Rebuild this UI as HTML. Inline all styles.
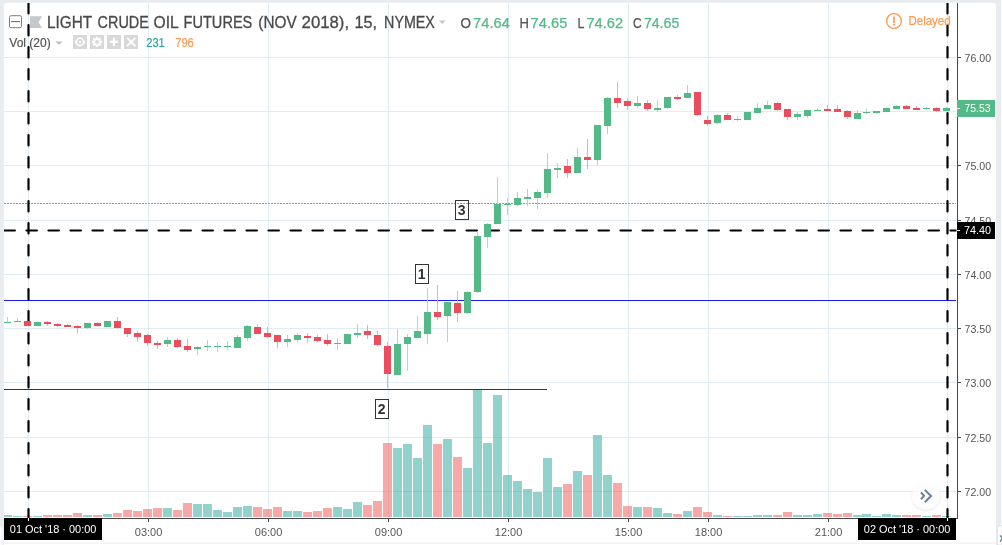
<!DOCTYPE html>
<html><head><meta charset="utf-8"><title>chart</title>
<style>html,body{margin:0;padding:0;background:#e8ecef;width:1002px;height:545px;overflow:hidden;font-family:"Liberation Sans",sans-serif}</style></head>
<body>
<svg width="1002" height="545" viewBox="0 0 1002 545" style="position:absolute;left:0;top:0;will-change:transform;font-family:'Liberation Sans',sans-serif">
<defs><clipPath id="pane"><rect x="4" y="3" width="952.5" height="515"/></clipPath><filter id="sh" x="-30%" y="-30%" width="160%" height="160%"><feDropShadow dx="0" dy="1" stdDeviation="1.2" flood-color="#000" flood-opacity="0.14"/></filter></defs>
<rect width="1002" height="545" fill="#e8ecef"/>
<rect x="1000" y="0" width="1" height="545" fill="#d9dee2"/><rect x="1000.6" y="0" width="2" height="545" fill="#fff"/>
<path d="M3.8 545V5.8a3 3 0 0 1 3-3H993a3 3 0 0 1 3 3V545Z" fill="#fff"/>
<rect x="3.8" y="542.6" width="992.2" height="0.9" fill="#e6ebef"/>
<path d="M1002 525.6H1000.4a3 3 0 0 0-3 3V545H1002Z" fill="#fff" stroke="#d5dbe0" stroke-width="0.7"/>
<path d="M1000 535.4l2.6 3l-2.6 3.2" stroke="#5f7d90" stroke-width="1.3" fill="none"/>
<path d="M0 526.4a2.4 2.4 0 0 1 2.4 2.4V545H0Z" fill="#fafbfc"/>
<g shape-rendering="crispEdges" fill="#e1ecf2">
<rect x="4" y="57" width="952" height="1"/>
<rect x="4" y="111" width="952" height="1"/>
<rect x="4" y="165" width="952" height="1"/>
<rect x="4" y="220" width="952" height="1"/>
<rect x="4" y="274" width="952" height="1"/>
<rect x="4" y="328" width="952" height="1"/>
<rect x="4" y="382" width="952" height="1"/>
<rect x="4" y="437" width="952" height="1"/>
<rect x="4" y="491" width="952" height="1"/>
<rect x="28" y="3" width="1" height="515"/>
<rect x="148" y="3" width="1" height="515"/>
<rect x="268" y="3" width="1" height="515"/>
<rect x="388" y="3" width="1" height="515"/>
<rect x="508" y="3" width="1" height="515"/>
<rect x="628" y="3" width="1" height="515"/>
<rect x="708" y="3" width="1" height="515"/>
<rect x="828" y="3" width="1" height="515"/>
<rect x="947" y="3" width="1" height="515"/>
</g>
<g shape-rendering="crispEdges" clip-path="url(#pane)">
<rect x="3" y="515" width="9" height="2" fill="rgba(38,166,154,0.5)"/>
<rect x="13" y="516" width="9" height="1" fill="rgba(38,166,154,0.5)"/>
<rect x="23" y="516" width="9" height="1" fill="rgba(239,83,80,0.5)"/>
<rect x="33" y="516" width="9" height="1" fill="rgba(38,166,154,0.5)"/>
<rect x="43" y="515" width="9" height="2" fill="rgba(239,83,80,0.5)"/>
<rect x="53" y="515" width="9" height="2" fill="rgba(239,83,80,0.5)"/>
<rect x="63" y="515" width="9" height="2" fill="rgba(239,83,80,0.5)"/>
<rect x="73" y="513" width="9" height="4" fill="rgba(239,83,80,0.5)"/>
<rect x="83" y="515" width="9" height="2" fill="rgba(38,166,154,0.5)"/>
<rect x="93" y="515" width="9" height="2" fill="rgba(239,83,80,0.5)"/>
<rect x="103" y="514" width="9" height="3" fill="rgba(38,166,154,0.5)"/>
<rect x="113" y="513" width="9" height="4" fill="rgba(239,83,80,0.5)"/>
<rect x="123" y="510" width="9" height="7" fill="rgba(239,83,80,0.5)"/>
<rect x="133" y="511" width="9" height="6" fill="rgba(239,83,80,0.5)"/>
<rect x="143" y="509" width="9" height="8" fill="rgba(239,83,80,0.5)"/>
<rect x="153" y="508" width="9" height="9" fill="rgba(239,83,80,0.5)"/>
<rect x="163" y="508" width="9" height="9" fill="rgba(38,166,154,0.5)"/>
<rect x="173" y="510" width="9" height="7" fill="rgba(239,83,80,0.5)"/>
<rect x="183" y="503" width="9" height="14" fill="rgba(239,83,80,0.5)"/>
<rect x="193" y="504" width="9" height="13" fill="rgba(38,166,154,0.5)"/>
<rect x="203" y="504" width="9" height="13" fill="rgba(38,166,154,0.5)"/>
<rect x="213" y="510" width="9" height="7" fill="rgba(38,166,154,0.5)"/>
<rect x="223" y="512" width="9" height="5" fill="rgba(38,166,154,0.5)"/>
<rect x="233" y="507" width="9" height="10" fill="rgba(38,166,154,0.5)"/>
<rect x="243" y="506" width="9" height="11" fill="rgba(38,166,154,0.5)"/>
<rect x="253" y="507" width="9" height="10" fill="rgba(239,83,80,0.5)"/>
<rect x="263" y="509" width="9" height="8" fill="rgba(239,83,80,0.5)"/>
<rect x="273" y="507" width="9" height="10" fill="rgba(239,83,80,0.5)"/>
<rect x="283" y="511" width="9" height="6" fill="rgba(38,166,154,0.5)"/>
<rect x="293" y="511" width="9" height="6" fill="rgba(38,166,154,0.5)"/>
<rect x="303" y="512" width="9" height="5" fill="rgba(239,83,80,0.5)"/>
<rect x="313" y="511" width="9" height="6" fill="rgba(239,83,80,0.5)"/>
<rect x="323" y="508" width="9" height="9" fill="rgba(239,83,80,0.5)"/>
<rect x="333" y="507" width="9" height="10" fill="rgba(38,166,154,0.5)"/>
<rect x="343" y="509" width="9" height="8" fill="rgba(38,166,154,0.5)"/>
<rect x="353" y="502" width="9" height="15" fill="rgba(38,166,154,0.5)"/>
<rect x="363" y="505" width="9" height="12" fill="rgba(239,83,80,0.5)"/>
<rect x="373" y="501" width="9" height="16" fill="rgba(239,83,80,0.5)"/>
<rect x="383" y="443" width="9" height="74" fill="rgba(239,83,80,0.5)"/>
<rect x="393" y="448" width="9" height="69" fill="rgba(38,166,154,0.5)"/>
<rect x="403" y="444" width="9" height="73" fill="rgba(38,166,154,0.5)"/>
<rect x="413" y="458" width="9" height="59" fill="rgba(38,166,154,0.5)"/>
<rect x="423" y="425" width="9" height="92" fill="rgba(38,166,154,0.5)"/>
<rect x="433" y="444" width="9" height="73" fill="rgba(239,83,80,0.5)"/>
<rect x="443" y="439" width="9" height="78" fill="rgba(38,166,154,0.5)"/>
<rect x="453" y="457" width="9" height="60" fill="rgba(239,83,80,0.5)"/>
<rect x="463" y="468" width="9" height="49" fill="rgba(38,166,154,0.5)"/>
<rect x="473" y="390" width="9" height="127" fill="rgba(38,166,154,0.5)"/>
<rect x="483" y="443" width="9" height="74" fill="rgba(38,166,154,0.5)"/>
<rect x="493" y="395" width="9" height="122" fill="rgba(38,166,154,0.5)"/>
<rect x="503" y="475" width="9" height="42" fill="rgba(38,166,154,0.5)"/>
<rect x="513" y="481" width="9" height="36" fill="rgba(38,166,154,0.5)"/>
<rect x="523" y="489" width="9" height="28" fill="rgba(38,166,154,0.5)"/>
<rect x="533" y="492" width="9" height="25" fill="rgba(38,166,154,0.5)"/>
<rect x="543" y="458" width="9" height="59" fill="rgba(38,166,154,0.5)"/>
<rect x="553" y="487" width="9" height="30" fill="rgba(38,166,154,0.5)"/>
<rect x="563" y="484" width="9" height="33" fill="rgba(239,83,80,0.5)"/>
<rect x="573" y="471" width="9" height="46" fill="rgba(38,166,154,0.5)"/>
<rect x="583" y="475" width="9" height="42" fill="rgba(239,83,80,0.5)"/>
<rect x="593" y="435" width="9" height="82" fill="rgba(38,166,154,0.5)"/>
<rect x="603" y="475" width="9" height="42" fill="rgba(38,166,154,0.5)"/>
<rect x="613" y="483" width="9" height="34" fill="rgba(239,83,80,0.5)"/>
<rect x="623" y="506" width="9" height="11" fill="rgba(239,83,80,0.5)"/>
<rect x="633" y="507" width="9" height="10" fill="rgba(38,166,154,0.5)"/>
<rect x="643" y="507" width="9" height="10" fill="rgba(239,83,80,0.5)"/>
<rect x="653" y="508" width="9" height="9" fill="rgba(38,166,154,0.5)"/>
<rect x="663" y="513" width="9" height="4" fill="rgba(38,166,154,0.5)"/>
<rect x="673" y="514" width="9" height="3" fill="rgba(239,83,80,0.5)"/>
<rect x="683" y="511" width="9" height="6" fill="rgba(38,166,154,0.5)"/>
<rect x="693" y="507" width="9" height="10" fill="rgba(239,83,80,0.5)"/>
<rect x="703" y="512" width="9" height="5" fill="rgba(239,83,80,0.5)"/>
<rect x="713" y="515" width="9" height="2" fill="rgba(38,166,154,0.5)"/>
<rect x="723" y="516" width="9" height="1" fill="rgba(239,83,80,0.5)"/>
<rect x="733" y="516" width="9" height="1" fill="rgba(38,166,154,0.5)"/>
<rect x="743" y="516" width="9" height="1" fill="rgba(38,166,154,0.5)"/>
<rect x="753" y="515" width="9" height="2" fill="rgba(38,166,154,0.5)"/>
<rect x="763" y="515" width="9" height="2" fill="rgba(38,166,154,0.5)"/>
<rect x="773" y="515" width="9" height="2" fill="rgba(239,83,80,0.5)"/>
<rect x="783" y="512" width="9" height="5" fill="rgba(239,83,80,0.5)"/>
<rect x="793" y="515" width="9" height="2" fill="rgba(38,166,154,0.5)"/>
<rect x="803" y="515" width="9" height="2" fill="rgba(38,166,154,0.5)"/>
<rect x="813" y="514" width="9" height="3" fill="rgba(38,166,154,0.5)"/>
<rect x="823" y="513" width="9" height="4" fill="rgba(239,83,80,0.5)"/>
<rect x="833" y="514" width="9" height="3" fill="rgba(239,83,80,0.5)"/>
<rect x="843" y="513" width="9" height="4" fill="rgba(239,83,80,0.5)"/>
<rect x="853" y="515" width="9" height="2" fill="rgba(38,166,154,0.5)"/>
<rect x="862" y="514" width="9" height="3" fill="rgba(38,166,154,0.5)"/>
<rect x="872" y="516" width="9" height="1" fill="rgba(38,166,154,0.5)"/>
<rect x="882" y="514" width="9" height="3" fill="rgba(38,166,154,0.5)"/>
<rect x="892" y="515" width="9" height="2" fill="rgba(38,166,154,0.5)"/>
<rect x="902" y="515" width="9" height="2" fill="rgba(239,83,80,0.5)"/>
<rect x="912" y="515" width="9" height="2" fill="rgba(239,83,80,0.5)"/>
<rect x="922" y="516" width="9" height="1" fill="rgba(38,166,154,0.5)"/>
<rect x="932" y="515" width="9" height="2" fill="rgba(239,83,80,0.5)"/>
<rect x="942" y="516" width="9" height="1" fill="rgba(38,166,154,0.5)"/>
</g>
<g shape-rendering="crispEdges" fill="#1c1cf5"><rect x="4" y="300" width="952" height="1"/><rect x="4" y="389" width="543.4" height="1"/></g>
<line x1="4" y1="203.5" x2="956" y2="203.5" stroke="#53b987" stroke-width="1" stroke-dasharray="2 1" shape-rendering="crispEdges"/>
<g clip-path="url(#pane)" stroke="#000" stroke-width="2.2" stroke-linecap="round" fill="none" stroke-dasharray="10.4 11.6">
<line x1="4.5" y1="230.5" x2="960" y2="230.5"/>
<line x1="28.5" y1="3.1" x2="28.5" y2="520"/>
<line x1="947.5" y1="3.1" x2="947.5" y2="520"/>
</g>
<g shape-rendering="crispEdges" clip-path="url(#pane)">
<rect x="7" y="317" width="1" height="6" fill="#a9dcc3"/>
<rect x="4" y="322" width="7" height="1" fill="#53b987"/>
<rect x="17" y="318" width="1" height="4" fill="#a9dcc3"/>
<rect x="14" y="321" width="7" height="1" fill="#53b987"/>
<rect x="27" y="321" width="1" height="5" fill="#f5a6ae"/>
<rect x="24" y="321" width="7" height="5" fill="#eb4d5c"/>
<rect x="37" y="321" width="1" height="5" fill="#a9dcc3"/>
<rect x="34" y="322" width="7" height="4" fill="#53b987"/>
<rect x="47" y="321" width="1" height="5" fill="#f5a6ae"/>
<rect x="44" y="322" width="7" height="2" fill="#eb4d5c"/>
<rect x="57" y="323" width="1" height="4" fill="#f5a6ae"/>
<rect x="54" y="324" width="7" height="2" fill="#eb4d5c"/>
<rect x="67" y="324" width="1" height="3" fill="#f5a6ae"/>
<rect x="64" y="325" width="7" height="2" fill="#eb4d5c"/>
<rect x="77" y="325" width="1" height="8" fill="#f5a6ae"/>
<rect x="74" y="326" width="7" height="2" fill="#eb4d5c"/>
<rect x="87" y="323" width="1" height="6" fill="#a9dcc3"/>
<rect x="84" y="323" width="7" height="5" fill="#53b987"/>
<rect x="97" y="322" width="1" height="5" fill="#f5a6ae"/>
<rect x="94" y="323" width="7" height="3" fill="#eb4d5c"/>
<rect x="107" y="321" width="1" height="6" fill="#a9dcc3"/>
<rect x="104" y="321" width="7" height="6" fill="#53b987"/>
<rect x="117" y="317" width="1" height="12" fill="#f5a6ae"/>
<rect x="114" y="321" width="7" height="7" fill="#eb4d5c"/>
<rect x="127" y="328" width="1" height="9" fill="#f5a6ae"/>
<rect x="124" y="328" width="7" height="6" fill="#eb4d5c"/>
<rect x="137" y="331" width="1" height="11" fill="#f5a6ae"/>
<rect x="134" y="333" width="7" height="4" fill="#eb4d5c"/>
<rect x="147" y="334" width="1" height="12" fill="#f5a6ae"/>
<rect x="144" y="335" width="7" height="8" fill="#eb4d5c"/>
<rect x="157" y="341" width="1" height="8" fill="#f5a6ae"/>
<rect x="154" y="343" width="7" height="2" fill="#eb4d5c"/>
<rect x="167" y="337" width="1" height="10" fill="#a9dcc3"/>
<rect x="164" y="340" width="7" height="4" fill="#53b987"/>
<rect x="177" y="338" width="1" height="10" fill="#f5a6ae"/>
<rect x="174" y="340" width="7" height="7" fill="#eb4d5c"/>
<rect x="187" y="339" width="1" height="13" fill="#f5a6ae"/>
<rect x="184" y="346" width="7" height="4" fill="#eb4d5c"/>
<rect x="197" y="346" width="1" height="9" fill="#a9dcc3"/>
<rect x="194" y="347" width="7" height="2" fill="#53b987"/>
<rect x="207" y="340" width="1" height="11" fill="#a9dcc3"/>
<rect x="204" y="346" width="7" height="1" fill="#53b987"/>
<rect x="217" y="342" width="1" height="10" fill="#a9dcc3"/>
<rect x="214" y="346" width="7" height="1" fill="#53b987"/>
<rect x="227" y="341" width="1" height="9" fill="#a9dcc3"/>
<rect x="224" y="346" width="7" height="1" fill="#53b987"/>
<rect x="237" y="335" width="1" height="13" fill="#a9dcc3"/>
<rect x="234" y="337" width="7" height="11" fill="#53b987"/>
<rect x="247" y="325" width="1" height="16" fill="#a9dcc3"/>
<rect x="244" y="326" width="7" height="12" fill="#53b987"/>
<rect x="257" y="324" width="1" height="10" fill="#f5a6ae"/>
<rect x="254" y="327" width="7" height="7" fill="#eb4d5c"/>
<rect x="267" y="327" width="1" height="11" fill="#f5a6ae"/>
<rect x="264" y="333" width="7" height="4" fill="#eb4d5c"/>
<rect x="277" y="335" width="1" height="13" fill="#f5a6ae"/>
<rect x="274" y="335" width="7" height="7" fill="#eb4d5c"/>
<rect x="287" y="335" width="1" height="12" fill="#a9dcc3"/>
<rect x="284" y="339" width="7" height="3" fill="#53b987"/>
<rect x="297" y="333" width="1" height="10" fill="#a9dcc3"/>
<rect x="294" y="335" width="7" height="5" fill="#53b987"/>
<rect x="307" y="333" width="1" height="10" fill="#f5a6ae"/>
<rect x="304" y="336" width="7" height="2" fill="#eb4d5c"/>
<rect x="317" y="335" width="1" height="7" fill="#f5a6ae"/>
<rect x="314" y="337" width="7" height="4" fill="#eb4d5c"/>
<rect x="327" y="334" width="1" height="12" fill="#f5a6ae"/>
<rect x="324" y="340" width="7" height="4" fill="#eb4d5c"/>
<rect x="337" y="338" width="1" height="12" fill="#a9dcc3"/>
<rect x="334" y="343" width="7" height="1" fill="#53b987"/>
<rect x="347" y="334" width="1" height="10" fill="#a9dcc3"/>
<rect x="344" y="334" width="7" height="10" fill="#53b987"/>
<rect x="357" y="324" width="1" height="14" fill="#a9dcc3"/>
<rect x="354" y="333" width="7" height="2" fill="#53b987"/>
<rect x="367" y="325" width="1" height="14" fill="#f5a6ae"/>
<rect x="364" y="331" width="7" height="4" fill="#eb4d5c"/>
<rect x="377" y="331" width="1" height="15" fill="#f5a6ae"/>
<rect x="374" y="335" width="7" height="10" fill="#eb4d5c"/>
<rect x="387" y="342" width="1" height="46" fill="#f5a6ae"/>
<rect x="384" y="346" width="7" height="28" fill="#eb4d5c"/>
<rect x="397" y="329" width="1" height="46" fill="#a9dcc3"/>
<rect x="394" y="344" width="7" height="31" fill="#53b987"/>
<rect x="407" y="334" width="1" height="37" fill="#a9dcc3"/>
<rect x="404" y="337" width="7" height="7" fill="#53b987"/>
<rect x="417" y="316" width="1" height="22" fill="#a9dcc3"/>
<rect x="414" y="331" width="7" height="7" fill="#53b987"/>
<rect x="427" y="288" width="1" height="56" fill="#a9dcc3"/>
<rect x="424" y="312" width="7" height="22" fill="#53b987"/>
<rect x="437" y="285" width="1" height="35" fill="#f5a6ae"/>
<rect x="434" y="312" width="7" height="5" fill="#eb4d5c"/>
<rect x="447" y="302" width="1" height="40" fill="#a9dcc3"/>
<rect x="444" y="302" width="7" height="14" fill="#53b987"/>
<rect x="457" y="291" width="1" height="31" fill="#f5a6ae"/>
<rect x="454" y="303" width="7" height="10" fill="#eb4d5c"/>
<rect x="467" y="291" width="1" height="23" fill="#a9dcc3"/>
<rect x="464" y="292" width="7" height="21" fill="#53b987"/>
<rect x="477" y="231" width="1" height="62" fill="#a9dcc3"/>
<rect x="474" y="236" width="7" height="56" fill="#53b987"/>
<rect x="487" y="223" width="1" height="25" fill="#a9dcc3"/>
<rect x="484" y="224" width="7" height="13" fill="#53b987"/>
<rect x="497" y="177" width="1" height="47" fill="#a9dcc3"/>
<rect x="494" y="204" width="7" height="20" fill="#53b987"/>
<rect x="507" y="198" width="1" height="17" fill="#a9dcc3"/>
<rect x="504" y="204" width="7" height="1" fill="#53b987"/>
<rect x="517" y="192" width="1" height="14" fill="#a9dcc3"/>
<rect x="514" y="198" width="7" height="7" fill="#53b987"/>
<rect x="527" y="189" width="1" height="17" fill="#a9dcc3"/>
<rect x="524" y="197" width="7" height="2" fill="#53b987"/>
<rect x="537" y="189" width="1" height="20" fill="#a9dcc3"/>
<rect x="534" y="192" width="7" height="6" fill="#53b987"/>
<rect x="547" y="153" width="1" height="45" fill="#a9dcc3"/>
<rect x="544" y="169" width="7" height="24" fill="#53b987"/>
<rect x="557" y="163" width="1" height="15" fill="#a9dcc3"/>
<rect x="554" y="168" width="7" height="2" fill="#53b987"/>
<rect x="567" y="159" width="1" height="19" fill="#f5a6ae"/>
<rect x="564" y="166" width="7" height="7" fill="#eb4d5c"/>
<rect x="577" y="148" width="1" height="25" fill="#a9dcc3"/>
<rect x="574" y="157" width="7" height="16" fill="#53b987"/>
<rect x="587" y="139" width="1" height="30" fill="#f5a6ae"/>
<rect x="584" y="157" width="7" height="3" fill="#eb4d5c"/>
<rect x="597" y="125" width="1" height="40" fill="#a9dcc3"/>
<rect x="594" y="125" width="7" height="35" fill="#53b987"/>
<rect x="607" y="97" width="1" height="37" fill="#a9dcc3"/>
<rect x="604" y="98" width="7" height="28" fill="#53b987"/>
<rect x="617" y="82" width="1" height="26" fill="#f5a6ae"/>
<rect x="614" y="98" width="7" height="5" fill="#eb4d5c"/>
<rect x="627" y="98" width="1" height="12" fill="#f5a6ae"/>
<rect x="624" y="101" width="7" height="5" fill="#eb4d5c"/>
<rect x="637" y="96" width="1" height="12" fill="#a9dcc3"/>
<rect x="634" y="103" width="7" height="3" fill="#53b987"/>
<rect x="647" y="100" width="1" height="11" fill="#f5a6ae"/>
<rect x="644" y="103" width="7" height="6" fill="#eb4d5c"/>
<rect x="657" y="100" width="1" height="12" fill="#a9dcc3"/>
<rect x="654" y="108" width="7" height="2" fill="#53b987"/>
<rect x="667" y="97" width="1" height="12" fill="#a9dcc3"/>
<rect x="664" y="97" width="7" height="11" fill="#53b987"/>
<rect x="677" y="95" width="1" height="5" fill="#f5a6ae"/>
<rect x="674" y="97" width="7" height="2" fill="#eb4d5c"/>
<rect x="687" y="85" width="1" height="13" fill="#a9dcc3"/>
<rect x="684" y="93" width="7" height="5" fill="#53b987"/>
<rect x="697" y="92" width="1" height="24" fill="#f5a6ae"/>
<rect x="694" y="92" width="7" height="23" fill="#eb4d5c"/>
<rect x="707" y="116" width="1" height="10" fill="#f5a6ae"/>
<rect x="704" y="120" width="7" height="4" fill="#eb4d5c"/>
<rect x="717" y="114" width="1" height="10" fill="#a9dcc3"/>
<rect x="714" y="115" width="7" height="8" fill="#53b987"/>
<rect x="727" y="113" width="1" height="7" fill="#f5a6ae"/>
<rect x="724" y="115" width="7" height="5" fill="#eb4d5c"/>
<rect x="737" y="116" width="1" height="5" fill="#a9dcc3"/>
<rect x="734" y="119" width="7" height="1" fill="#53b987"/>
<rect x="747" y="112" width="1" height="8" fill="#a9dcc3"/>
<rect x="744" y="112" width="7" height="8" fill="#53b987"/>
<rect x="757" y="103" width="1" height="10" fill="#a9dcc3"/>
<rect x="754" y="108" width="7" height="5" fill="#53b987"/>
<rect x="767" y="101" width="1" height="8" fill="#a9dcc3"/>
<rect x="764" y="105" width="7" height="4" fill="#53b987"/>
<rect x="777" y="102" width="1" height="9" fill="#f5a6ae"/>
<rect x="774" y="103" width="7" height="7" fill="#eb4d5c"/>
<rect x="787" y="109" width="1" height="11" fill="#f5a6ae"/>
<rect x="784" y="109" width="7" height="8" fill="#eb4d5c"/>
<rect x="797" y="112" width="1" height="8" fill="#a9dcc3"/>
<rect x="794" y="114" width="7" height="3" fill="#53b987"/>
<rect x="807" y="110" width="1" height="8" fill="#a9dcc3"/>
<rect x="804" y="110" width="7" height="6" fill="#53b987"/>
<rect x="817" y="108" width="1" height="3" fill="#a9dcc3"/>
<rect x="814" y="110" width="7" height="1" fill="#53b987"/>
<rect x="827" y="105" width="1" height="6" fill="#f5a6ae"/>
<rect x="824" y="109" width="7" height="2" fill="#eb4d5c"/>
<rect x="837" y="105" width="1" height="7" fill="#f5a6ae"/>
<rect x="834" y="109" width="7" height="3" fill="#eb4d5c"/>
<rect x="847" y="110" width="1" height="9" fill="#f5a6ae"/>
<rect x="844" y="111" width="7" height="6" fill="#eb4d5c"/>
<rect x="857" y="110" width="1" height="9" fill="#a9dcc3"/>
<rect x="854" y="113" width="7" height="6" fill="#53b987"/>
<rect x="866" y="109" width="1" height="5" fill="#a9dcc3"/>
<rect x="863" y="112" width="7" height="1" fill="#53b987"/>
<rect x="876" y="111" width="1" height="3" fill="#a9dcc3"/>
<rect x="873" y="111" width="7" height="2" fill="#53b987"/>
<rect x="886" y="107" width="1" height="5" fill="#a9dcc3"/>
<rect x="883" y="108" width="7" height="4" fill="#53b987"/>
<rect x="896" y="105" width="1" height="4" fill="#a9dcc3"/>
<rect x="893" y="106" width="7" height="3" fill="#53b987"/>
<rect x="906" y="105" width="1" height="4" fill="#f5a6ae"/>
<rect x="903" y="106" width="7" height="3" fill="#eb4d5c"/>
<rect x="916" y="106" width="1" height="4" fill="#f5a6ae"/>
<rect x="913" y="108" width="7" height="2" fill="#eb4d5c"/>
<rect x="926" y="107" width="1" height="3" fill="#a9dcc3"/>
<rect x="923" y="108" width="7" height="1" fill="#53b987"/>
<rect x="936" y="107" width="1" height="5" fill="#f5a6ae"/>
<rect x="933" y="108" width="7" height="3" fill="#eb4d5c"/>
<rect x="946" y="107" width="1" height="4" fill="#a9dcc3"/>
<rect x="943" y="108" width="7" height="3" fill="#53b987"/>
</g>
<rect x="415.5" y="264.5" width="13" height="19" fill="none" stroke="#333" stroke-width="1"/>
<text x="421.7" y="279" font-size="14" font-weight="bold" fill="#333" text-anchor="middle">1</text>
<rect x="375.5" y="399.5" width="13" height="19" fill="none" stroke="#333" stroke-width="1"/>
<text x="381.7" y="414" font-size="14" font-weight="bold" fill="#333" text-anchor="middle">2</text>
<rect x="455.5" y="200.5" width="13" height="19" fill="none" stroke="#333" stroke-width="1"/>
<text x="461.7" y="215" font-size="14" font-weight="bold" fill="#333" text-anchor="middle">3</text>
<g shape-rendering="crispEdges" fill="#4a4a4a">
<rect x="957" y="3" width="1" height="516"/>
<rect x="4" y="518" width="954" height="1"/>
<rect x="958" y="57" width="3" height="1"/>
<rect x="958" y="165" width="3" height="1"/>
<rect x="958" y="220" width="3" height="1"/>
<rect x="958" y="274" width="3" height="1"/>
<rect x="958" y="328" width="3" height="1"/>
<rect x="958" y="382" width="3" height="1"/>
<rect x="958" y="437" width="3" height="1"/>
<rect x="958" y="491" width="3" height="1"/>
<rect x="148" y="519" width="1" height="3"/>
<rect x="268" y="519" width="1" height="3"/>
<rect x="388" y="519" width="1" height="3"/>
<rect x="508" y="519" width="1" height="3"/>
<rect x="628" y="519" width="1" height="3"/>
<rect x="708" y="519" width="1" height="3"/>
<rect x="828" y="519" width="1" height="3"/>
</g>
<g font-size="11" fill="#555">
<text x="964.5" y="61.5" textLength="26.6" lengthAdjust="spacingAndGlyphs">76.00</text>
<text x="964.5" y="169.5" textLength="26.6" lengthAdjust="spacingAndGlyphs">75.00</text>
<text x="964.5" y="224.5" textLength="26.6" lengthAdjust="spacingAndGlyphs">74.50</text>
<text x="964.5" y="278.5" textLength="26.6" lengthAdjust="spacingAndGlyphs">74.00</text>
<text x="964.5" y="332.5" textLength="26.6" lengthAdjust="spacingAndGlyphs">73.50</text>
<text x="964.5" y="386.5" textLength="26.6" lengthAdjust="spacingAndGlyphs">73.00</text>
<text x="964.5" y="441.5" textLength="26.6" lengthAdjust="spacingAndGlyphs">72.50</text>
<text x="964.5" y="495.5" textLength="26.6" lengthAdjust="spacingAndGlyphs">72.00</text>
</g>
<g font-size="11" fill="#555" text-anchor="middle">
<text x="148.6" y="536">03:00</text>
<text x="268.6" y="536">06:00</text>
<text x="388.6" y="536">09:00</text>
<text x="508.6" y="536">12:00</text>
<text x="628.6" y="536">15:00</text>
<text x="708.6" y="536">18:00</text>
<text x="828.6" y="536">21:00</text>
</g>
<rect x="957" y="100" width="38" height="17" fill="#53b987" shape-rendering="crispEdges"/>
<rect x="957" y="108" width="3" height="1" fill="#fff" shape-rendering="crispEdges"/>
<text x="964.5" y="112.3" font-size="11" fill="#fff" textLength="26" lengthAdjust="spacingAndGlyphs">75.53</text>
<rect x="957" y="222" width="38" height="17" fill="#000" shape-rendering="crispEdges"/>
<rect x="957" y="230" width="3" height="1" fill="#fff" shape-rendering="crispEdges"/>
<text x="964.1" y="233.8" font-size="11" fill="#fff" textLength="27" lengthAdjust="spacingAndGlyphs">74.40</text>
<rect x="4" y="518" width="98" height="22" fill="#000" shape-rendering="crispEdges"/>
<rect x="28" y="518" width="1" height="3" fill="#fff" shape-rendering="crispEdges"/>
<text x="9.8" y="533" font-size="11" fill="#fff" textLength="86.6" lengthAdjust="spacingAndGlyphs">01 Oct '18 · 00:00</text>
<rect x="858" y="518" width="98" height="22" fill="#000" shape-rendering="crispEdges"/>
<rect x="947" y="518" width="1" height="3" fill="#fff" shape-rendering="crispEdges"/>
<text x="863.8" y="533" font-size="11" fill="#fff" textLength="86.6" lengthAdjust="spacingAndGlyphs">02 Oct '18 · 00:00</text>
<circle cx="926" cy="495.6" r="14" fill="#fff" fill-opacity="0.85" filter="url(#sh)"/>
<path d="M921 492.3l3 3.5l-3 3.5M924.8 489.9l6.2 6.1l-6.2 6.2" fill="none" stroke="#6a7f99" stroke-width="2"/>
<rect x="9.5" y="15.7" width="12" height="12" rx="1.6" fill="#fff" stroke="#707070" stroke-width="0.9"/>
<rect x="11.2" y="21.1" width="8.7" height="1" fill="#606060"/>
<path d="M30 16.3H42L38.6 22.2L42 28H30Z" fill="#c3c8cc"/>
<g font-size="16" fill="#4a4a4a" stroke="#4a4a4a" stroke-width="0.3">
<text x="47" y="28" textLength="45.1" lengthAdjust="spacingAndGlyphs">LIGHT</text>
<text x="97.6" y="28" textLength="51.2" lengthAdjust="spacingAndGlyphs">CRUDE</text>
<text x="153.6" y="28" textLength="25.1" lengthAdjust="spacingAndGlyphs">OIL</text>
<text x="183.6" y="28" textLength="68.7" lengthAdjust="spacingAndGlyphs">FUTURES</text>
<text x="258.3" y="28" textLength="38.3" lengthAdjust="spacingAndGlyphs">(NOV</text>
<text x="301.6" y="28" textLength="47.5" lengthAdjust="spacingAndGlyphs">2018),</text>
<text x="354.6" y="28" textLength="22.5" lengthAdjust="spacingAndGlyphs">15,</text>
<text x="384.1" y="28" textLength="50.75" lengthAdjust="spacingAndGlyphs">NYMEX</text>
</g>
<path d="M438.8 20.5h7l-3.5 3.4z" fill="#c8c8c8"/>
<g font-size="14" stroke-width="0.25">
<text x="460.6" y="28" fill="#555" stroke="#555" textLength="10.5" lengthAdjust="spacingAndGlyphs">O</text>
<text x="473.1" y="28" fill="#53b987" stroke="#53b987" textLength="36.7" lengthAdjust="spacingAndGlyphs">74.64</text>
<text x="519.4" y="28" fill="#555" stroke="#555" textLength="9.4" lengthAdjust="spacingAndGlyphs">H</text>
<text x="530.6" y="28" fill="#53b987" stroke="#53b987" textLength="36.7" lengthAdjust="spacingAndGlyphs">74.65</text>
<text x="577.4" y="28" fill="#555" stroke="#555" textLength="6.9" lengthAdjust="spacingAndGlyphs">L</text>
<text x="586.4" y="28" fill="#53b987" stroke="#53b987" textLength="36.7" lengthAdjust="spacingAndGlyphs">74.62</text>
<text x="633.1" y="28" fill="#555" stroke="#555" textLength="8.7" lengthAdjust="spacingAndGlyphs">C</text>
<text x="643.9" y="28" fill="#53b987" stroke="#53b987" textLength="35.4" lengthAdjust="spacingAndGlyphs">74.65</text>
</g>
<text x="9.3" y="46.8" font-size="12" fill="#555" stroke="#555" stroke-width="0.2" textLength="41.4" lengthAdjust="spacingAndGlyphs">Vol (20)</text>
<path d="M55.3 41.4h7.4l-3.7 3.4z" fill="#bdbdbd"/>
<rect x="73" y="35" width="14" height="14" fill="#d8d8d8"/>
<rect x="90" y="35" width="14" height="14" fill="#d8d8d8"/>
<rect x="107" y="35" width="14" height="14" fill="#d8d8d8"/>
<rect x="124" y="35" width="14" height="14" fill="#d8d8d8"/>
<path d="M74.7 41.9C76.4 38.6 78.4 37.4 80 37.4S83.6 38.6 85.3 41.9C83.6 45.2 81.6 46.4 80 46.4S76.4 45.2 74.7 41.9Z" fill="#fff"/><circle cx="80" cy="41.9" r="2.8" fill="#d8d8d8"/><circle cx="80" cy="41.9" r="1.25" fill="#fff"/>
<g stroke="#fff" stroke-width="2.3" fill="none">
<line x1="99.6" y1="41.9" x2="102.1" y2="41.9"/>
<line x1="98.8385" y1="43.7385" x2="100.606" y2="45.5062"/>
<line x1="97" y1="44.5" x2="97" y2="47"/>
<line x1="95.1615" y1="43.7385" x2="93.3938" y2="45.5062"/>
<line x1="94.4" y1="41.9" x2="91.9" y2="41.9"/>
<line x1="95.1615" y1="40.0615" x2="93.3938" y2="38.2938"/>
<line x1="97" y1="39.3" x2="97" y2="36.8"/>
<line x1="98.8385" y1="40.0615" x2="100.606" y2="38.2938"/>
</g><circle cx="97" cy="41.9" r="3.6" fill="#fff"/><circle cx="97" cy="41.9" r="2" fill="#d8d8d8"/>
<path d="M114 37.8v8.2M109.9 41.9h8.2" stroke="#fff" stroke-width="2.2" fill="none"/>
<path d="M127.1 37.8l8.2 8.4M135.3 37.8l-8.2 8.4" stroke="#fff" stroke-width="1.9" fill="none"/>
<text x="146.2" y="47" font-size="12" fill="#26a69a" stroke="#26a69a" stroke-width="0.2" textLength="18.6" lengthAdjust="spacingAndGlyphs">231</text>
<text x="175.2" y="47" font-size="12" fill="#ff9850" stroke="#ff9850" stroke-width="0.2" textLength="18.6" lengthAdjust="spacingAndGlyphs">796</text>
<circle cx="894" cy="21" r="7.4" fill="none" stroke="#ff9850" stroke-width="1.3"/>
<path d="M894 16.6v6.6M894 24.1v1.3" stroke="#ff9850" stroke-width="1.7" fill="none"/>
<text x="908.5" y="24.8" font-size="12" fill="#ff9850" stroke="#ff9850" stroke-width="0.2" textLength="42" lengthAdjust="spacingAndGlyphs">Delayed</text>
</svg>
</body></html>
